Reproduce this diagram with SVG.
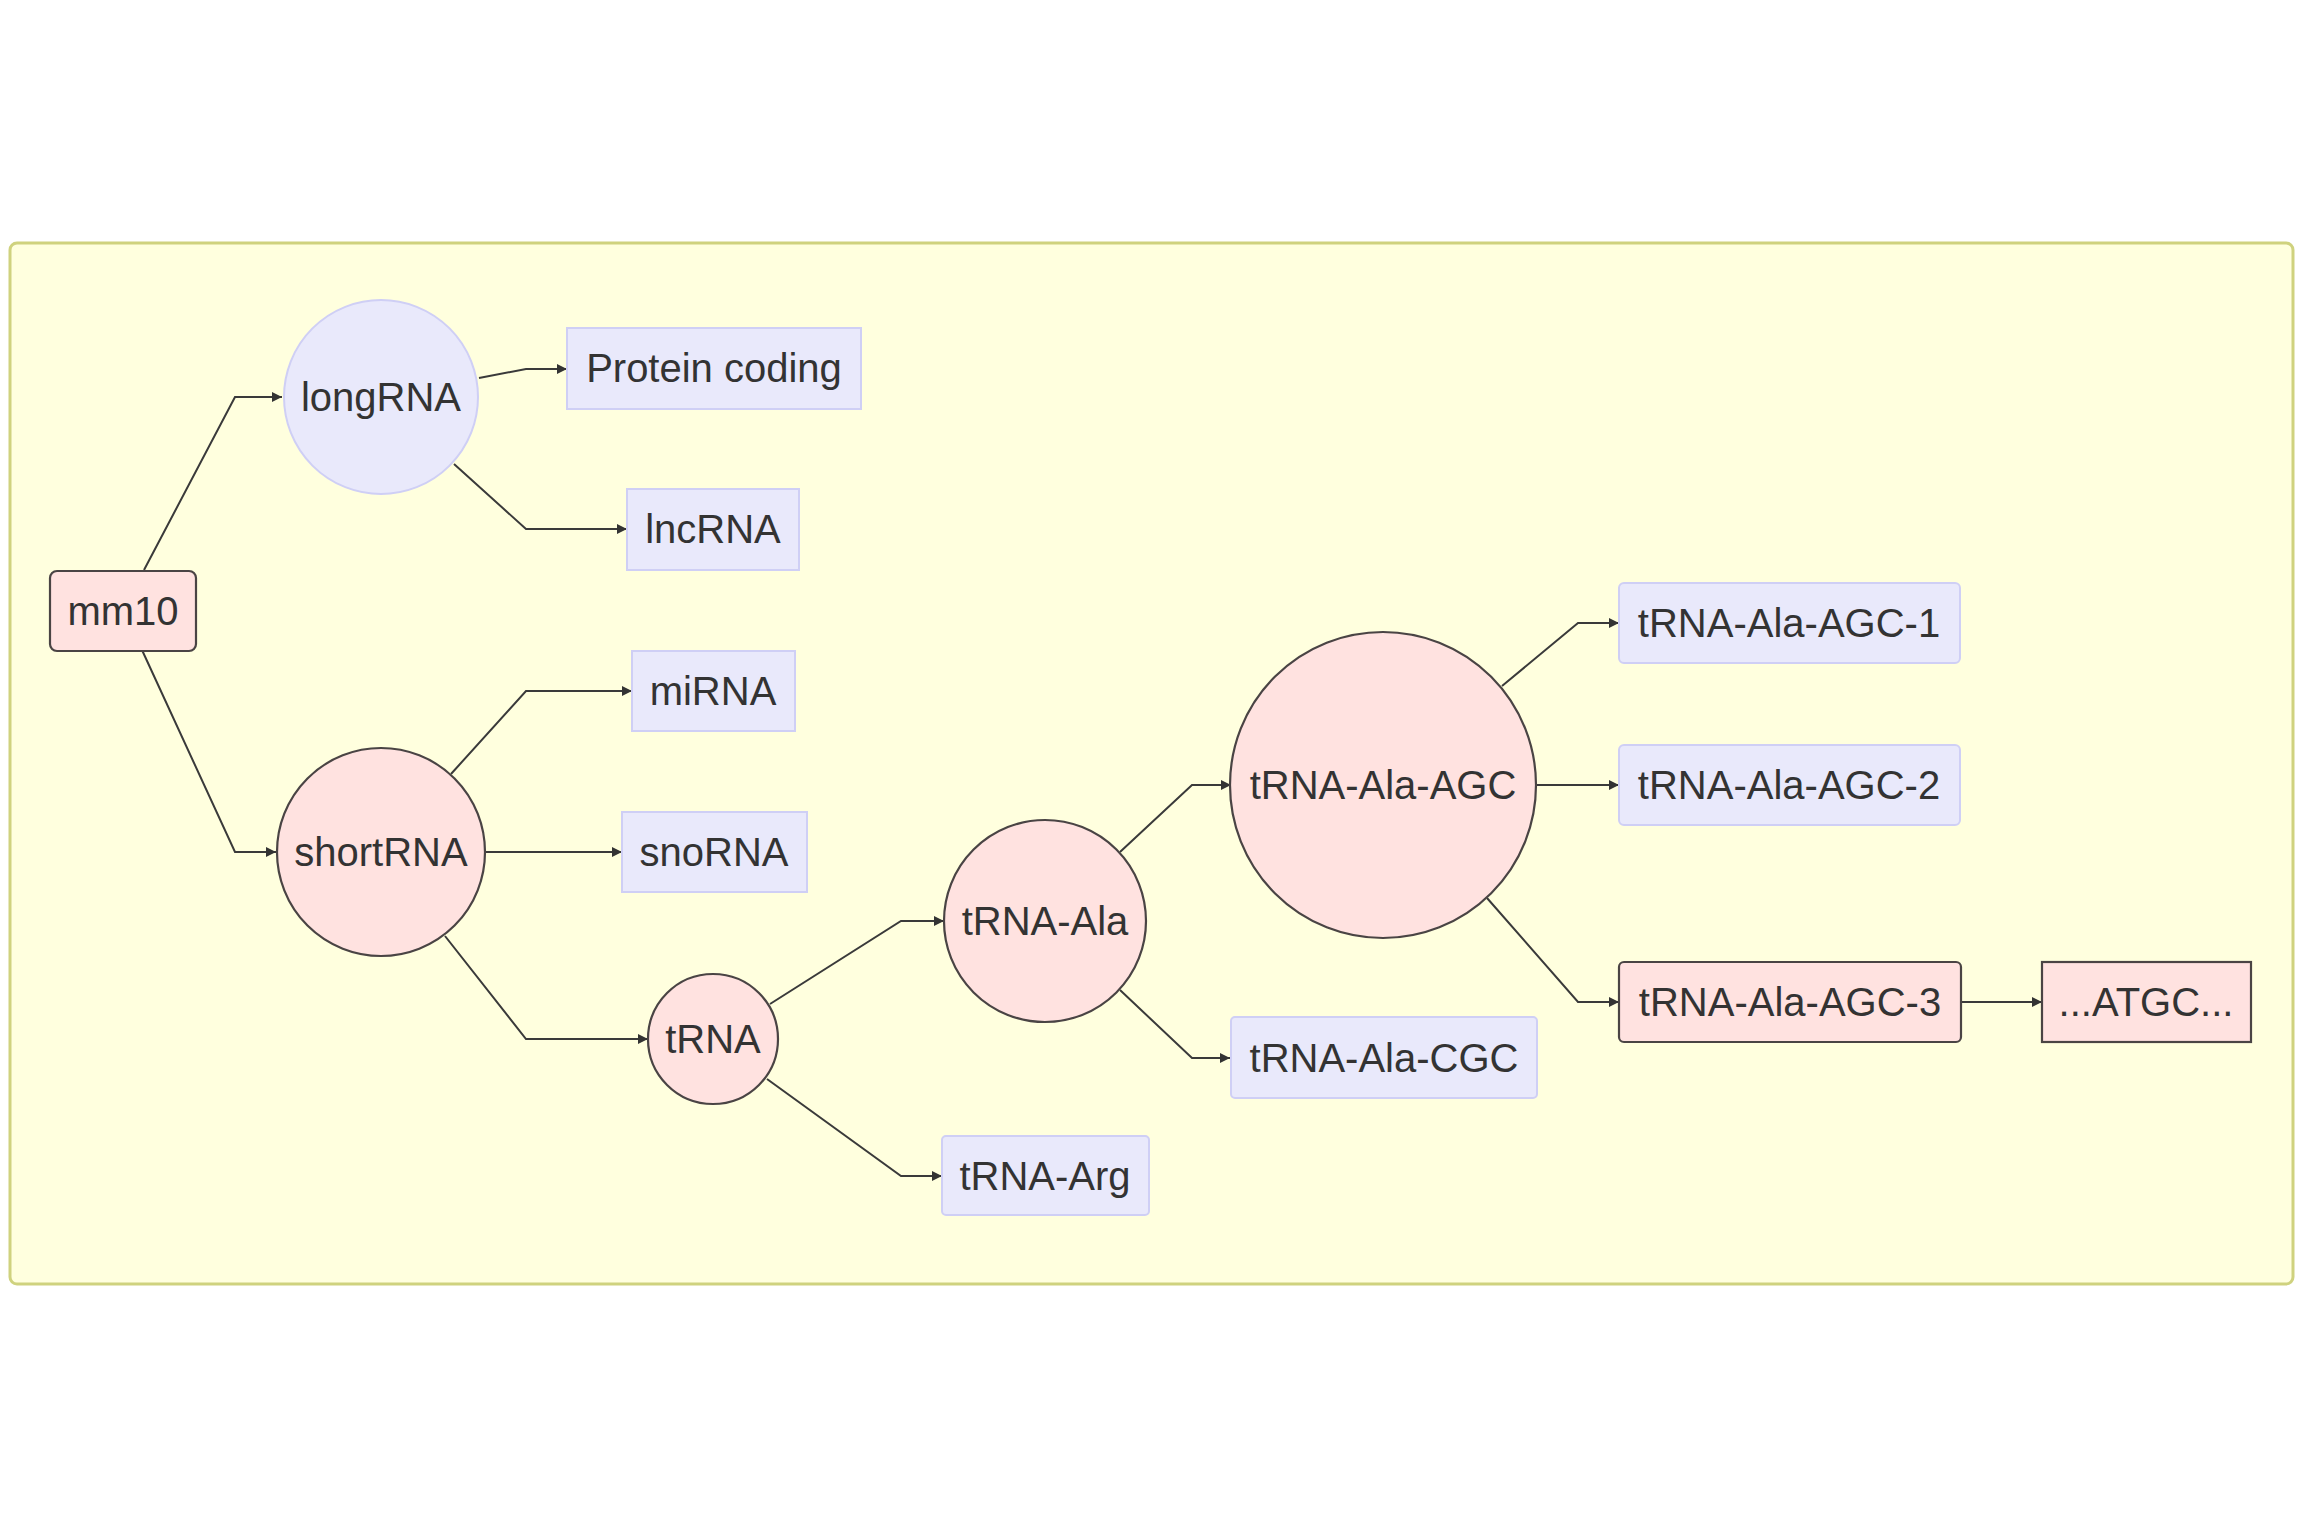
<svg xmlns="http://www.w3.org/2000/svg" width="2304" height="1536" viewBox="0 0 2304 1536">
  <defs>
    <marker id="arrow" viewBox="0 0 10 10" refX="10" refY="5" markerWidth="10" markerHeight="10" markerUnits="userSpaceOnUse" orient="auto">
      <path d="M0,0 L10,5 L0,10 z" fill="#333333"/>
    </marker>
    <style>
      .cluster { fill: #ffffde; stroke: #cfd27e; stroke-width: 3; }
      .leaf { fill: #e9e9fb; stroke: #cfcff5; stroke-width: 2; }
      .hot { fill: #ffe2e0; stroke: #4a4444; stroke-width: 2.2; }
      .cool { fill: #e9e9fb; stroke: #cfcff5; stroke-width: 2; }
      .edge { fill: none; stroke: #3a3a3a; stroke-width: 2; marker-end: url(#arrow); }
      text { font-family: "Liberation Sans", Arial, Helvetica, sans-serif; font-size: 40px; fill: #333333; text-anchor: middle; dominant-baseline: central; }
    </style>
  </defs>

  <rect x="0" y="0" width="2304" height="1536" fill="#ffffff"/>
  <rect class="cluster" x="10" y="243" width="2283" height="1041" rx="7"/>

  <!-- connectors -->
  <g id="edges">
    <polyline class="edge" points="144,570 235,397 282,397"/>
    <polyline class="edge" points="142,650 235,852 276,852"/>
    <polyline class="edge" points="479,378 526,369 567,369"/>
    <polyline class="edge" points="454,464 526,529 627,529"/>
    <polyline class="edge" points="451,774 526,691 632,691"/>
    <polyline class="edge" points="485,852 622,852"/>
    <polyline class="edge" points="445,936 526,1039 648,1039"/>
    <polyline class="edge" points="770,1004 901,921 944,921"/>
    <polyline class="edge" points="767,1079 901,1176 942,1176"/>
    <polyline class="edge" points="1120,852 1192,785 1231,785"/>
    <polyline class="edge" points="1120,990 1192,1058 1230,1058"/>
    <polyline class="edge" points="1502,686 1578,623 1619,623"/>
    <polyline class="edge" points="1537,785 1619,785"/>
    <polyline class="edge" points="1487,898 1578,1002 1619,1002"/>
    <polyline class="edge" points="1962,1002 2042,1002"/>
  </g>

  <!-- nodes -->
  <g id="mm10">
    <rect class="hot" x="50" y="571" width="146" height="80" rx="7"/>
    <text x="123" y="611">mm10</text>
  </g>
  <g id="longRNA">
    <circle class="cool" cx="381" cy="397" r="97"/>
    <text x="381" y="397">longRNA</text>
  </g>
  <g id="protein-coding">
    <rect class="leaf" x="567" y="328" width="294" height="81"/>
    <text x="714" y="368">Protein coding</text>
  </g>
  <g id="lncRNA">
    <rect class="leaf" x="627" y="489" width="172" height="81"/>
    <text x="713" y="529">lncRNA</text>
  </g>
  <g id="miRNA">
    <rect class="leaf" x="632" y="651" width="163" height="80"/>
    <text x="713" y="691">miRNA</text>
  </g>
  <g id="shortRNA">
    <circle class="hot" cx="381" cy="852" r="104"/>
    <text x="381" y="852">shortRNA</text>
  </g>
  <g id="snoRNA">
    <rect class="leaf" x="622" y="812" width="185" height="80"/>
    <text x="714" y="852">snoRNA</text>
  </g>
  <g id="tRNA">
    <circle class="hot" cx="713" cy="1039" r="65"/>
    <text x="713" y="1039">tRNA</text>
  </g>
  <g id="tRNA-Ala">
    <circle class="hot" cx="1045" cy="921" r="101"/>
    <text x="1045" y="921">tRNA-Ala</text>
  </g>
  <g id="tRNA-Arg">
    <rect class="leaf" x="942" y="1136" width="207" height="79" rx="4"/>
    <text x="1045" y="1176">tRNA-Arg</text>
  </g>
  <g id="tRNA-Ala-AGC">
    <circle class="hot" cx="1383" cy="785" r="153"/>
    <text x="1383" y="785">tRNA-Ala-AGC</text>
  </g>
  <g id="tRNA-Ala-CGC">
    <rect class="leaf" x="1231" y="1017" width="306" height="81" rx="4"/>
    <text x="1384" y="1058">tRNA-Ala-CGC</text>
  </g>
  <g id="tRNA-Ala-AGC-1">
    <rect class="leaf" x="1619" y="583" width="341" height="80" rx="5"/>
    <text x="1789" y="623">tRNA-Ala-AGC-1</text>
  </g>
  <g id="tRNA-Ala-AGC-2">
    <rect class="leaf" x="1619" y="745" width="341" height="80" rx="5"/>
    <text x="1789" y="785">tRNA-Ala-AGC-2</text>
  </g>
  <g id="tRNA-Ala-AGC-3">
    <rect class="hot" x="1619" y="962" width="342" height="80" rx="5"/>
    <text x="1790" y="1002">tRNA-Ala-AGC-3</text>
  </g>
  <g id="sequence">
    <rect class="hot" x="2042" y="962" width="209" height="80"/>
    <text x="2146" y="1002">...ATGC...</text>
  </g>
</svg>
